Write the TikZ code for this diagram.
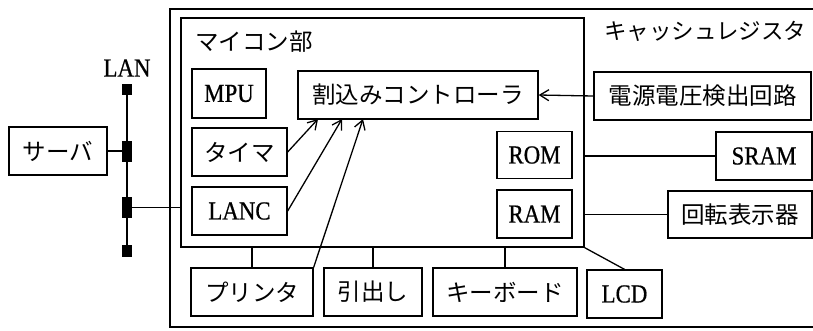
\documentclass[tikz,border=0pt]{standalone}
\usepackage{fontspec}
\setmainfont{Liberation Serif}
\newfontfamily\jp{Noto Sans CJK JP}
\newfontfamily\lat[FakeStretch=0.88,FakeBold=0.6]{Liberation Serif}
\usetikzlibrary{arrows.meta}
\begin{document}
\begin{tikzpicture}[x=1pt,y=-1pt,
  box/.style={draw,line width=1.3pt,rectangle,inner sep=0pt,font=\lat\fontsize{26}{30}\selectfont},
  jbox/.style={box,font=\jp\fontsize{23.5}{27}\selectfont},
  frame/.style={draw,line width=1.3pt},
  conn/.style={line width=1.3pt},
  arr/.style={conn,-{Straight Barb[length=9pt,width=11pt,line width=1.3pt]}},
  tap/.style={fill=black,inner sep=0pt,rectangle}]
\useasboundingbox (0,0) rectangle (813,330);
% outer frame (cash register)
\draw[frame] (830,9) -- (170,9) -- (170,327) -- (830,327);
\node[anchor=west,inner sep=0pt,font=\jp\fontsize{22.5}{26}\selectfont] (cr) at (604,31) {キャッシュレジスタ};
% inner frame (microcomputer)
\node[draw,line width=1.3pt,inner sep=0pt,minimum width=403pt,minimum height=229pt] (mcu) at (382.5,132.5) {};
\node[anchor=west,inner sep=0pt,font=\jp\fontsize{23.5}{27}\selectfont] (mcul) at (195,42) {マイコン部};
% boxes
\node[box,minimum width=74pt,minimum height=49pt] (mpu) at (229,93.5) {MPU};
\node[jbox,minimum width=240pt,minimum height=48pt] (intc) at (418,95) {割込みコントローラ};
\node[jbox,minimum width=217pt,minimum height=48pt] (pwr) at (702.5,96) {電源電圧検出回路};
\node[jbox,minimum width=95pt,minimum height=48pt] (tim) at (239.5,152) {タイマ};
\node[box,minimum width=95pt,minimum height=48pt] (lanc) at (239.5,211) {LANC};
\node[box,minimum width=75pt,minimum height=47pt] (rom) at (534.5,155) {ROM};
\node[box,minimum width=75pt,minimum height=48pt] (ram) at (534.5,214) {RAM};
\node[box,minimum width=96pt,minimum height=48pt] (sram) at (764,156) {SRAM};
\node[jbox,minimum width=144pt,minimum height=47pt] (disp) at (740,214.5) {回転表示器};
\node[jbox,minimum width=122pt,minimum height=48pt] (prn) at (252,292) {プリンタ};
\node[jbox,minimum width=98pt,minimum height=48pt] (drw) at (373,292) {引出し};
\node[jbox,minimum width=144pt,minimum height=48pt] (kb) at (505,292) {キーボード};
\node[box,minimum width=75pt,minimum height=48pt] (lcd) at (624.5,294) {LCD};
\node[jbox,minimum width=98pt,minimum height=48pt] (srv) at (58,151) {サーバ};
% LAN bus
\node[font=\lat\fontsize{26}{30}\selectfont] (lan) at (127,68) {LAN};
\node[tap,minimum width=10pt,minimum height=11pt] (t1) at (127,89.5) {};
\node[tap,minimum width=10pt,minimum height=21pt] (j1) at (127,151.5) {};
\node[tap,minimum width=10pt,minimum height=21pt] (j2) at (127,207.5) {};
\node[tap,minimum width=10pt,minimum height=12pt] (t2) at (127,251) {};
\draw[line width=2.2pt] (t1.center) -- (t2.center);
\draw[conn] (srv.east) -- (j1.west |- srv.east);
\draw[conn] (j2.east) -- (j2.east -| mcu.west);
% arrows
\draw[arr] (pwr.west) -- (intc.east);
\coordinate (a1) at (318,119);
\coordinate (a2) at (342,119);
\coordinate (a3) at (363,119);
\draw[arr] (tim.east) -- (a1);
\draw[arr] (lanc.east) -- (a2);
\draw[arr] (prn.north east) -- (a3);
% right side links
\draw[conn] (sram.west -| mcu.east) -- (sram.west);
\draw[conn] (disp.west -| mcu.east) -- (disp.west);
% bottom links
\draw[conn] (prn.north) -- (prn.north |- mcu.south);
\draw[conn] (drw.north) -- (drw.north |- mcu.south);
\draw[conn] (kb.north) -- (kb.north |- mcu.south);
\draw[conn] (mcu.south east) -- (lcd.north);
\end{tikzpicture}
\end{document}
